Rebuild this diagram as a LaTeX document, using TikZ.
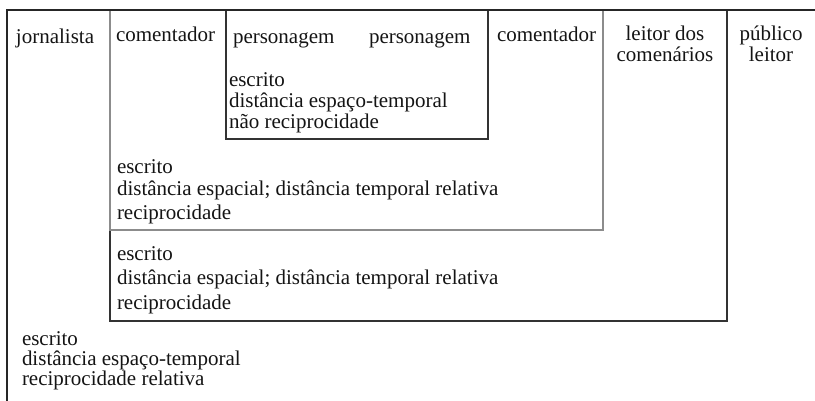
\documentclass[tikz,border=0pt]{standalone}
\usepackage{fontspec}
\setmainfont{Liberation Serif}
\begin{document}
\begin{tikzpicture}[x=1pt,y=-1pt,
  txt/.style={anchor=base west,inner sep=0pt,outer sep=0pt,font=\fontsize{21}{22}\selectfont,text=black!92},
  ctxt/.style={txt,anchor=base},
  frame/.style={line width=2.6pt,draw=black!85},
  boxblack/.style={line width=1.4pt,draw=black!80},
  boxgray/.style={line width=1.6pt,draw=black!45}]
\useasboundingbox (0,0) rectangle (815,400);
\clip (0,0) rectangle (815,400);
% coordinates
\coordinate (o) at (7,10);
\coordinate (b2a) at (110,10); \coordinate (b2b) at (727,321);
\coordinate (b1a) at (110,10); \coordinate (b1b) at (603,230);
\coordinate (b3a) at (226,10); \coordinate (b3b) at (488,139);
% boxes
\draw[boxblack] (b2a) rectangle (b2b);
\draw[boxgray] (b1a) rectangle (b1b);
\draw[boxblack] (b3a) rectangle (b3b);
\draw[frame] (o) rectangle (830,420);
% top row
\node[txt] (jorn) at (16,43) {jornalista};
\node[txt] (com1) at (116,41) {comentador};
\node[txt] (pers1) at (233,43) {personagem};
\node[txt] (pers2) at (369,43) {personagem};
\node[txt] (com2) at (497,41) {comentador};
\node[ctxt] (leit1) at (665,40) {leitor dos};
\node[ctxt] (leit2) at (665,61) {comenários};
\node[ctxt] (pub1) at (771,40) {público};
\node[ctxt] (pub2) at (771,61) {leitor};
% box 3 block
\node[txt] (c1) at (229,86) {escrito};
\node[txt] (c2) at (229,107) {distância espaço-temporal};
\node[txt] (c3) at (229,128) {não reciprocidade};
% box 1 block
\node[txt] (d1) at (117,173) {escrito};
\node[txt] (d2) at (117,195) {distância espacial; distância temporal relativa};
\node[txt] (d3) at (117,219) {reciprocidade};
% box 2 block
\node[txt] (e1) at (117,260) {escrito};
\node[txt] (e2) at (117,284) {distância espacial; distância temporal relativa};
\node[txt] (e3) at (117,309) {reciprocidade};
% outer block
\node[txt] (f1) at (22,345) {escrito};
\node[txt] (f2) at (22,365) {distância espaço-temporal};
\node[txt] (f3) at (22,385) {reciprocidade relativa};
\end{tikzpicture}
\end{document}
